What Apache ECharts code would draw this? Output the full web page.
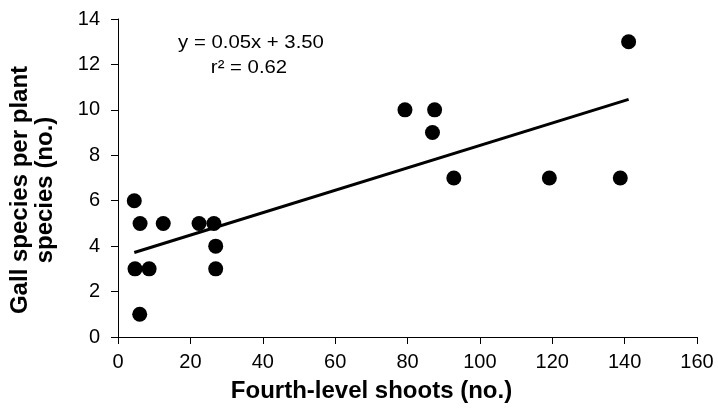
<!DOCTYPE html>
<html>
<head>
<meta charset="utf-8">
<script src="https://cdn.jsdelivr.net/npm/echarts@6/dist/echarts.min.js"></script>
<style>
  html, body { margin: 0; padding: 0; background: #fff; }
  #chart { width: 718px; height: 410px; }
</style>
</head>
<body>
<div id="chart"></div>
<script>
  // 数据：四级枝条数 vs 每种植物的虫瘿种类数
  const shoots = [4.5, 6.1, 12.5, 22.4, 26.5, 27.0, 4.7, 8.6, 27.0, 6.0, 79.3, 87.5, 86.9, 92.8, 119.2, 138.8, 141.1];
  const galls  = [6, 5, 5, 5, 5, 4, 3, 3, 3, 1, 10, 10, 9, 7, 7, 7, 13];
  // 回归线两个端点（从图上读的）
  const fitX = [4.5, 141.1];
  const fitY = [3.72, 10.46];
  const xTicks = [0, 20, 40, 60, 80, 100, 120, 140, 160];
  const yTicks = [0, 2, 4, 6, 8, 10, 12, 14];

  const font = '"Liberation Sans", Arial, sans-serif';
  const chart = echarts.init(document.getElementById('chart'));

  const axisCommon = {
    type: 'value',
    nameLocation: 'middle',
    splitLine: { show: false },
    axisLine: { show: true, onZero: false, lineStyle: { color: '#000', width: 1 } },
    axisTick: { show: true, length: 7, lineStyle: { color: '#000', width: 1 } },
    axisLabel: { color: '#000', fontSize: 20, fontFamily: font },
    nameTextStyle: { color: '#000', fontSize: 24, fontWeight: 'bold', fontFamily: font }
  };

  chart.setOption({
    animation: false,
    grid: { left: 116, right: 21, top: 19, bottom: 73 },
    xAxis: Object.assign({}, axisCommon, {
      min: xTicks[0], max: xTicks[xTicks.length - 1], interval: 20,
      name: 'Fourth-level shoots (no.)',
      nameGap: 42,
      nameTextStyle: Object.assign({}, axisCommon.nameTextStyle, { padding: [0, 72, 0, 0] }),
      axisLabel: Object.assign({}, axisCommon.axisLabel, { margin: 15 })
    }),
    yAxis: Object.assign({}, axisCommon, {
      min: yTicks[0], max: yTicks[yTicks.length - 1], interval: 2,
      name: 'Gall species per plant\nspecies (no.)',
      nameGap: 60,
      nameTextStyle: Object.assign({}, axisCommon.nameTextStyle, { lineHeight: 25, padding: [0, 24, 0, 0] }),
      axisLabel: Object.assign({}, axisCommon.axisLabel, { margin: 18 })
    }),
    graphic: [
      {
        type: 'text', x: 251, y: 43, scaleX: 1.07, originX: 0,
        style: { text: 'y = 0.05x + 3.50', font: '19px ' + font, fill: '#000', align: 'center', verticalAlign: 'middle' }
      },
      {
        type: 'text', x: 249, y: 68, scaleX: 1.07, originX: 0,
        style: { text: 'r² = 0.62', font: '19px ' + font, fill: '#000', align: 'center', verticalAlign: 'middle' }
      }
    ],
    series: [
      {
        type: 'line',
        data: fitX.map((x, i) => [x, fitY[i]]),
        symbol: 'none',
        lineStyle: { color: '#000', width: 3 },
        z: 2
      },
      {
        type: 'scatter',
        data: shoots.map((x, i) => [x, galls[i]]),
        symbol: 'circle',
        symbolSize: 15,
        itemStyle: { color: '#000', opacity: 1 },
        z: 3
      }
    ]
  });
</script>
</body>
</html>
